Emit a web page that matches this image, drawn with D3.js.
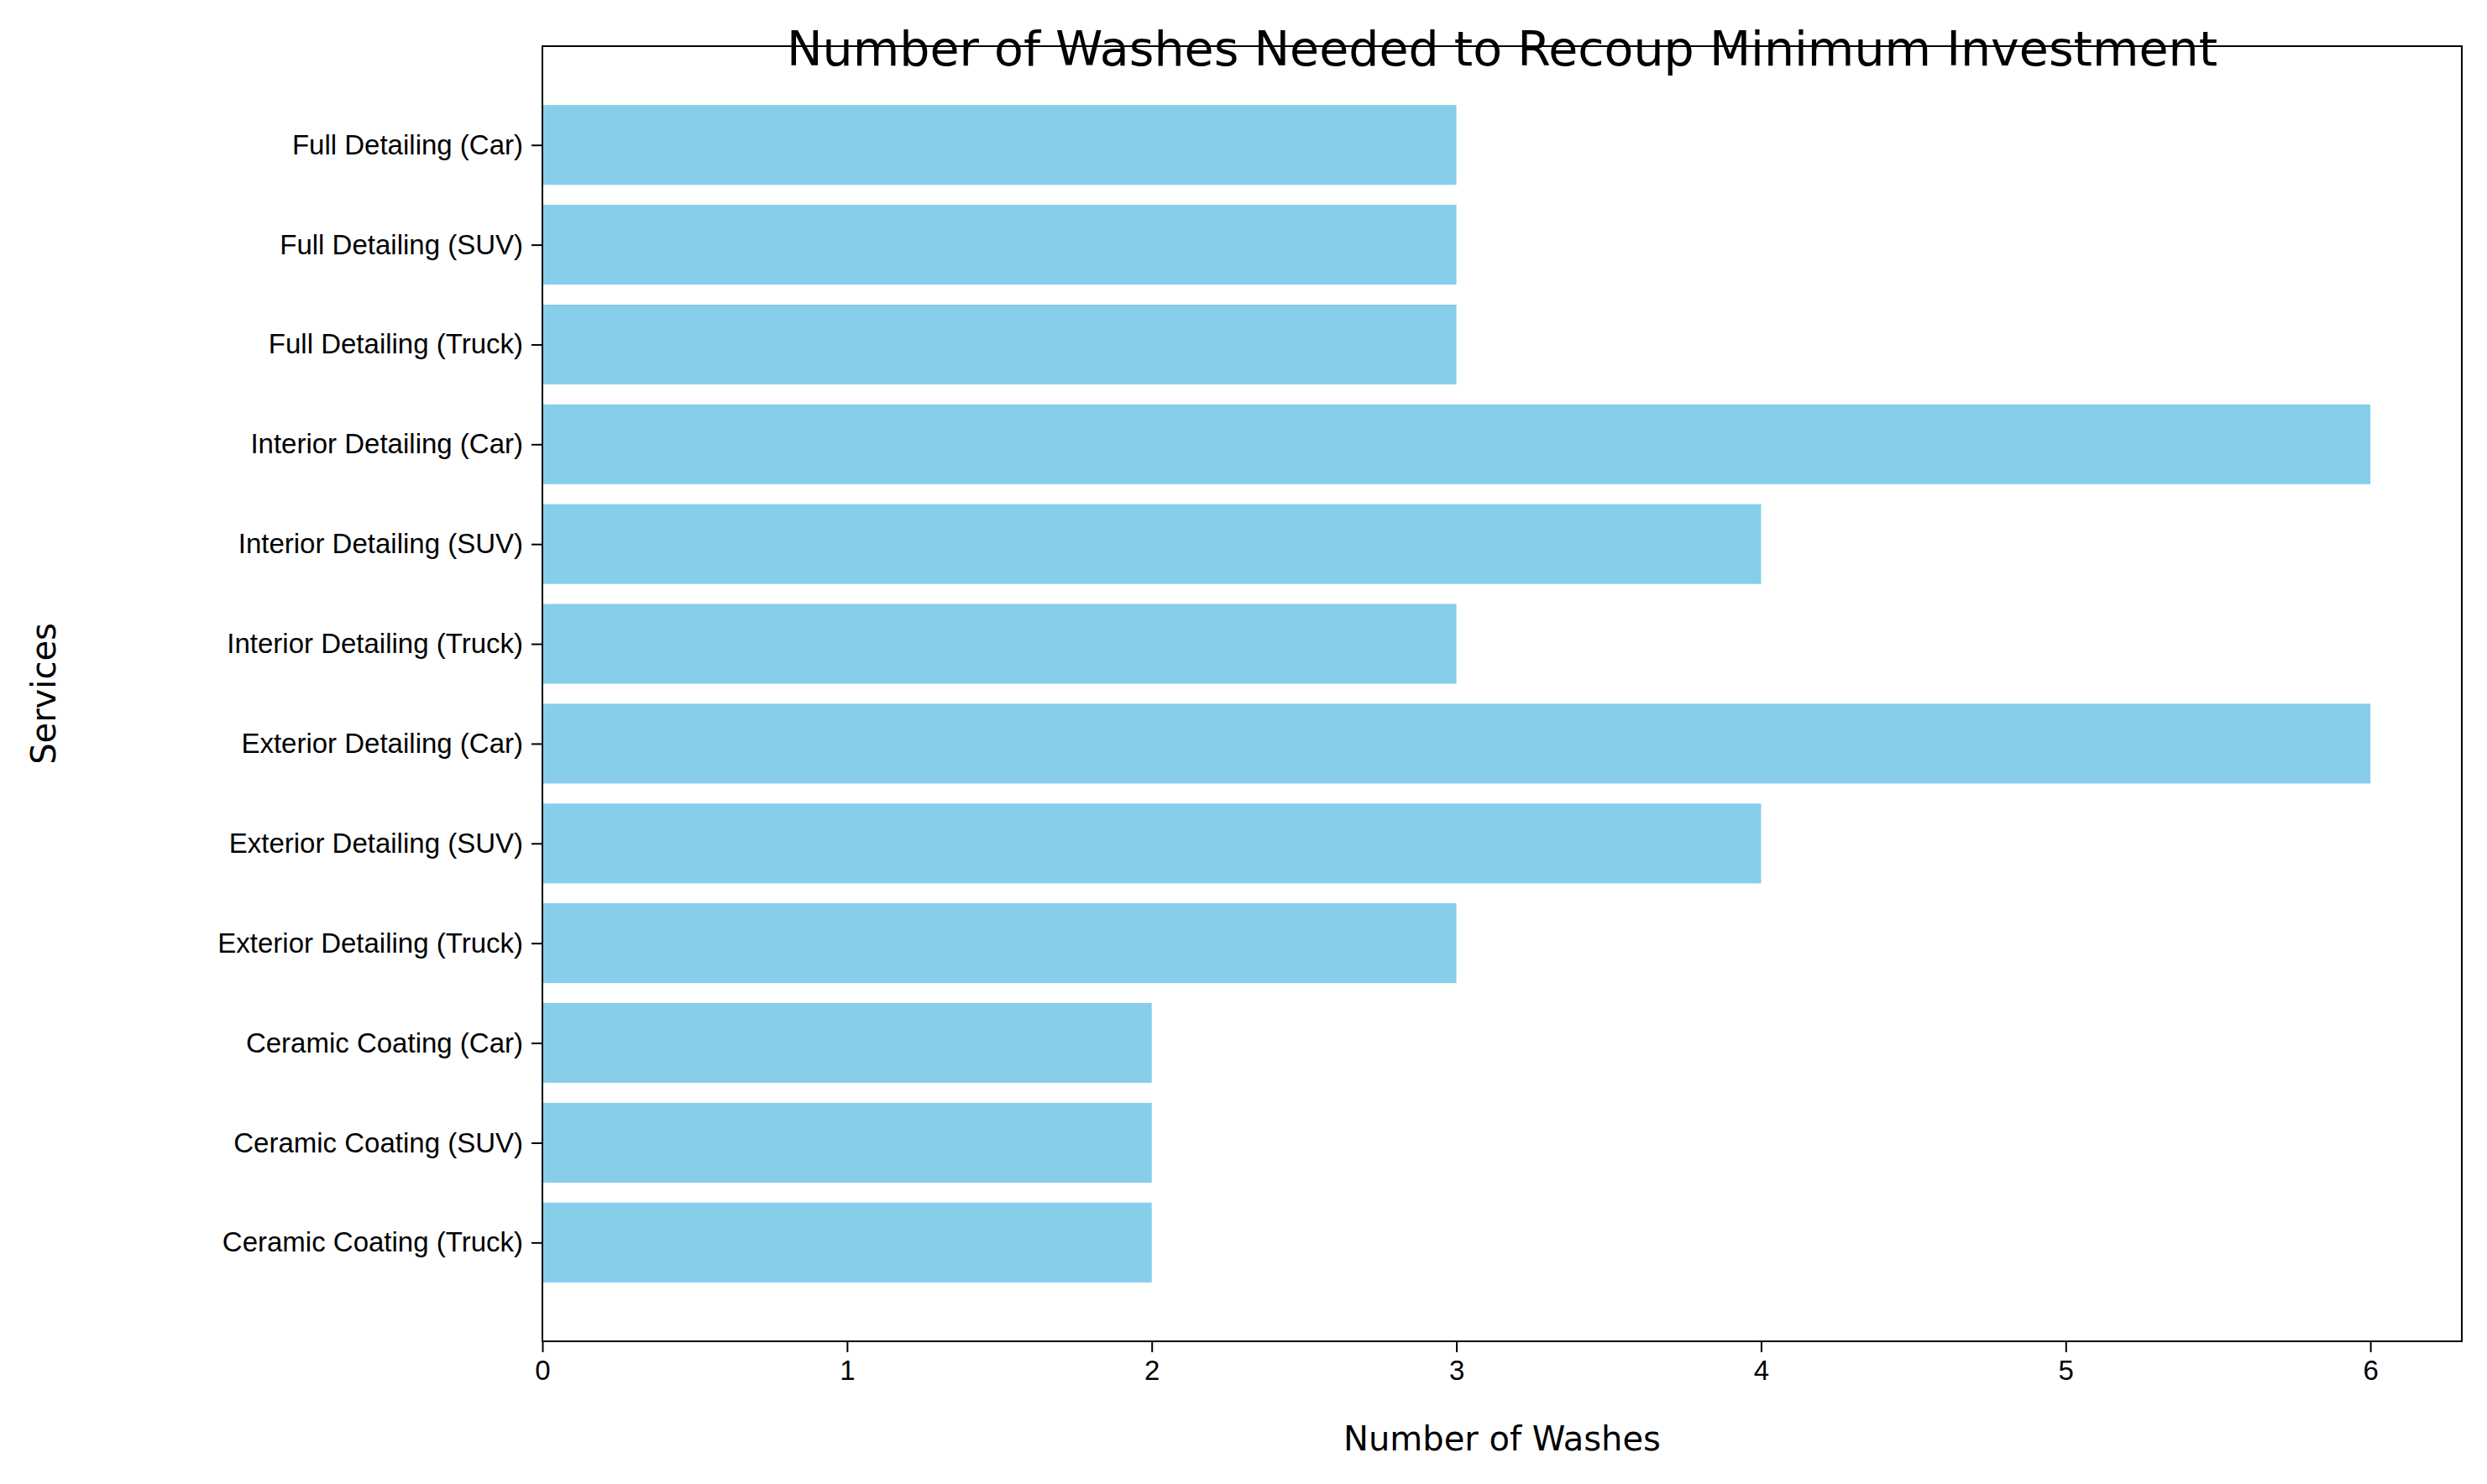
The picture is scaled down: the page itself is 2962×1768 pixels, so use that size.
<!DOCTYPE html>
<html><head><meta charset="utf-8">
<script src="https://cdn.jsdelivr.net/npm/d3@7"></script>
<style>body{margin:0;background:#fff}svg{display:block;font-family:"DejaVu Sans",sans-serif}</style>
</head><body><svg id="c" width="2962" height="1768"></svg>
<script>
const services = ['Ceramic Coating (Truck)', 'Ceramic Coating (SUV)', 'Ceramic Coating (Car)',
  'Exterior Detailing (Truck)', 'Exterior Detailing (SUV)', 'Exterior Detailing (Car)',
  'Interior Detailing (Truck)', 'Interior Detailing (SUV)', 'Interior Detailing (Car)',
  'Full Detailing (Truck)', 'Full Detailing (SUV)', 'Full Detailing (Car)'];
const washes = [2, 2, 2, 3, 4, 6, 3, 4, 6, 3, 3, 3];
const xTicks = [0, 1, 2, 3, 4, 5, 6];

const svg = d3.select('#c');
const m = { left: 646, right: 30, top: 55, bottom: 170 };
const W = 2962, H = 1768;

const x = d3.scaleLinear().domain([0, 6.3]).range([m.left, W - m.right]);
const y = d3.scaleLinear().domain([-0.99, 11.99]).range([H - m.bottom, m.top]);
const barH = Math.abs(y(0.8) - y(0));

svg.append('g').selectAll('rect')
  .data(services)
  .join('rect')
  .attr('x', x(0))
  .attr('y', (d, i) => y(i + 0.4))
  .attr('width', (d, i) => x(washes[i]) - x(0))
  .attr('height', barH)
  .attr('fill', '#87ceeb');

const xAxis = d3.axisBottom(x).tickValues(xTicks).tickFormat(d3.format('d')).tickSize(13).tickPadding(10);
svg.append('g').attr('transform', `translate(0,${H - m.bottom})`).call(xAxis)
  .call(g => g.selectAll('text').attr('font-size', 33).attr('fill', '#000'));

const yAxis = d3.axisLeft(y).tickValues(d3.range(services.length)).tickFormat(i => services[i]).tickSize(13).tickPadding(10);
svg.append('g').attr('transform', `translate(${m.left},0)`).call(yAxis)
  .call(g => g.selectAll('text').attr('font-size', 33).attr('fill', '#000'));

svg.selectAll('.domain').remove();
svg.selectAll('.tick line').attr('stroke', '#000').attr('stroke-width', 2);
svg.append('rect').attr('x', m.left).attr('y', m.top)
  .attr('width', W - m.right - m.left).attr('height', H - m.bottom - m.top)
  .attr('fill', 'none').attr('stroke', '#000').attr('stroke-width', 2);

svg.append('text').attr('x', (m.left + W - m.right) / 2).attr('y', 78)
  .attr('text-anchor', 'middle').attr('font-size', 57)
  .text('Number of Washes Needed to Recoup Minimum Investment');
svg.append('text').attr('x', (m.left + W - m.right) / 2).attr('y', 1728)
  .attr('text-anchor', 'middle').attr('font-size', 40).text('Number of Washes');
svg.append('text').attr('transform', `translate(66,${(m.top + H - m.bottom) / 2}) rotate(-90)`)
  .attr('text-anchor', 'middle').attr('font-size', 40).text('Services');
</script></body></html>
